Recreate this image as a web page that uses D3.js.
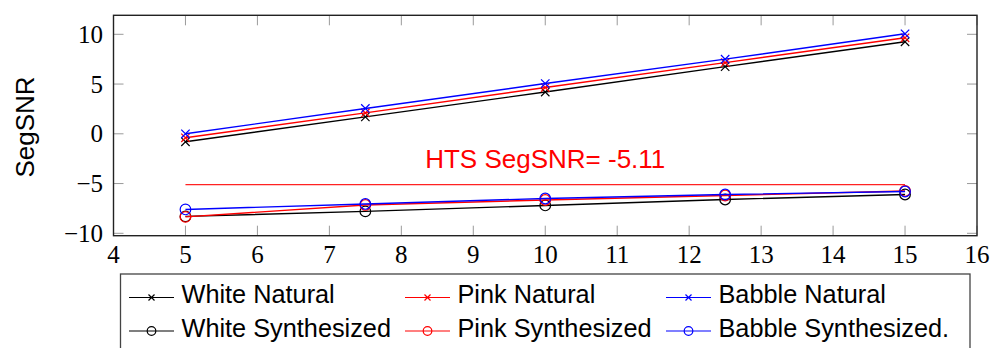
<!DOCTYPE html>
<html><head><meta charset="utf-8">
<script src="https://cdn.jsdelivr.net/npm/d3@7"></script>
<style>body{margin:0;background:#fff}svg{display:block}</style>
</head><body>
<svg id="c" width="992" height="348"></svg>
<script>
const xValues = [5, 7.5, 10, 12.5, 15];
const whiteNatural = [-0.8, 1.7, 4.2, 6.75, 9.25];
const pinkNatural = [-0.4, 2.1, 4.65, 7.15, 9.65];
const babbleNatural = [0.0, 2.55, 5.05, 7.5, 10.05];
const whiteSynthesized = [-8.3, -7.8, -7.2, -6.6, -6.1];
const pinkSynthesized = [-8.35, -7.15, -6.65, -6.2, -5.75];
const babbleSynthesized = [-7.6, -7.05, -6.5, -6.1, -5.8];
const htsValue = -5.11;
const htsLabel = "HTS SegSNR= -5.11";
const xTicks = [4, 5, 6, 7, 8, 9, 10, 11, 12, 13, 14, 15, 16];
const yTicks = [-10, -5, 0, 5, 10];
const yLabel = "SegSNR";

const series = [
  {name: "White Natural", values: whiteNatural, color: "#000", marker: "x"},
  {name: "Pink Natural", values: pinkNatural, color: "#f00", marker: "x"},
  {name: "Babble Natural", values: babbleNatural, color: "#00f", marker: "x"},
  {name: "White Synthesized", values: whiteSynthesized, color: "#000", marker: "o"},
  {name: "Pink Synthesized", values: pinkSynthesized, color: "#f00", marker: "o"},
  {name: "Babble Synthesized.", values: babbleSynthesized, color: "#00f", marker: "o"}
];

const svg = d3.select("#c");
const L = 113.5, R = 977, T = 15.3, B = 235.7;
const x = d3.scaleLinear().domain([4, 16]).range([L, R]);
const y = d3.scaleLinear().domain([-10.24, 11.91]).range([B, T]);

const serif = "'Liberation Serif', 'DejaVu Serif', serif";
const sans = "'Liberation Sans', Arial, sans-serif";

// ticks (inner, all sides)
const tickLen = 10;
const tg = svg.append("g").attr("stroke", "#9a9a9a").attr("stroke-width", 1);
xTicks.forEach(t => {
  tg.append("line").attr("x1", x(t)).attr("x2", x(t)).attr("y1", B).attr("y2", B - tickLen);
  tg.append("line").attr("x1", x(t)).attr("x2", x(t)).attr("y1", T).attr("y2", T + tickLen);
});
yTicks.forEach(t => {
  tg.append("line").attr("x1", L).attr("x2", L + tickLen).attr("y1", y(t)).attr("y2", y(t));
  tg.append("line").attr("x1", R).attr("x2", R - tickLen).attr("y1", y(t)).attr("y2", y(t));
});

// tick labels
svg.append("g").selectAll("text").data(xTicks).join("text")
  .attr("x", d => x(d)).attr("y", 262.5).attr("text-anchor", "middle")
  .attr("font-family", serif).attr("font-size", 25).text(d => d);
svg.append("g").selectAll("text").data(yTicks).join("text")
  .attr("x", 103).attr("y", d => y(d) + 8.5).attr("text-anchor", "end")
  .attr("font-family", serif).attr("font-size", 25)
  .text(d => d < 0 ? "\u2212" + Math.abs(d) : d);

// y label
svg.append("text").attr("transform", `translate(34,127) rotate(-90)`)
  .attr("text-anchor", "middle").attr("font-family", sans).attr("font-size", 26)
  .text(yLabel);

// HTS line and label
svg.append("line").attr("x1", x(xValues[0])).attr("x2", x(xValues[xValues.length - 1]))
  .attr("y1", y(htsValue)).attr("y2", y(htsValue))
  .attr("stroke", "#f22").attr("stroke-width", 1.4);
svg.append("text").attr("x", x(10)).attr("y", 168.3).attr("text-anchor", "middle")
  .attr("font-family", sans).attr("font-size", 26).attr("fill", "#f00").text(htsLabel);

// series
const line = d3.line().x(d => x(d[0])).y(d => y(d[1]));
function drawMarker(g, type, cx, cy, color, s) {
  if (type === "x") {
    g.append("path").attr("d", `M${cx - s},${cy - s}L${cx + s},${cy + s}M${cx - s},${cy + s}L${cx + s},${cy - s}`)
      .attr("stroke", color).attr("stroke-width", 1.2).attr("fill", "none");
  } else {
    g.append("circle").attr("cx", cx).attr("cy", cy).attr("r", s)
      .attr("stroke", color).attr("stroke-width", 1.2).attr("fill", "none");
  }
}
series.forEach(s => {
  const pts = xValues.map((xv, i) => [xv, s.values[i]]);
  const g = svg.append("g");
  g.append("path").attr("d", line(pts)).attr("fill", "none")
    .attr("stroke", s.color).attr("stroke-width", 1.4);
  pts.forEach(p => drawMarker(g, s.marker, x(p[0]), y(p[1]), s.color, s.marker === "x" ? 4.2 : 5.3));
});

// frame
svg.append("rect").attr("x", L).attr("y", T).attr("width", R - L).attr("height", B - T)
  .attr("fill", "none").attr("stroke", "#222").attr("stroke-width", 1.4);

// legend
const lg = svg.append("g");
lg.append("rect").attr("x", 120.5).attr("y", 274).attr("width", 849.5).attr("height", 120)
  .attr("fill", "#fff").attr("stroke", "#444").attr("stroke-width", 1.3);
const colLine = [129, 405, 666];
const rowY = [297.5, 331];
series.forEach((s, i) => {
  const col = i % 3, row = Math.floor(i / 3);
  const x0 = colLine[col], ly = rowY[row];
  lg.append("line").attr("x1", x0).attr("x2", x0 + 45).attr("y1", ly).attr("y2", ly)
    .attr("stroke", s.color).attr("stroke-width", 1.1);
  drawMarker(lg, s.marker, x0 + 22.5, ly, s.color, s.marker === "x" ? 3 : 4.3);
  lg.append("text").attr("x", x0 + 52.5).attr("y", ly + 5.5)
    .attr("font-family", sans).attr("font-size", 25.3).attr("fill", "#000").text(s.name);
});
</script>
</body></html>
